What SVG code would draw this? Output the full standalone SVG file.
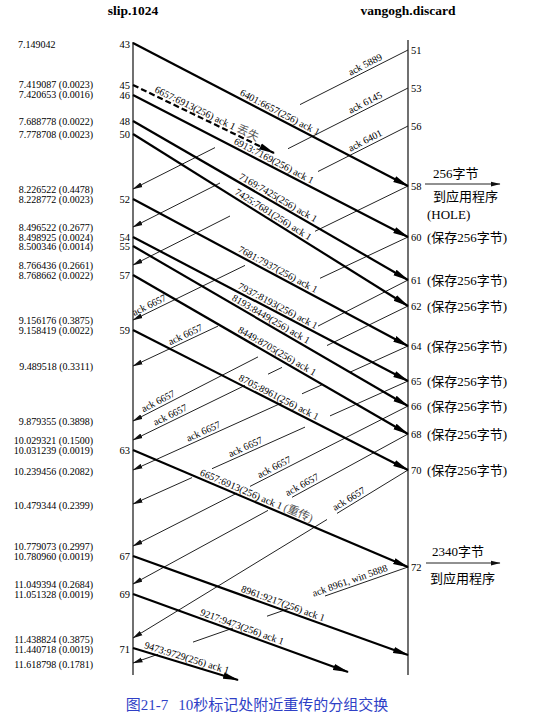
<svg xmlns="http://www.w3.org/2000/svg" width="547" height="721" viewBox="0 0 547 721">
<defs>
<style>
.t{font-family:"Liberation Serif","Noto Sans CJK SC",serif;font-size:10px;fill:#000}
.te{font-family:"Liberation Serif",serif;font-size:10px;fill:#000;text-anchor:end}
.n{font-family:"Liberation Serif",serif;font-size:10.5px;fill:#000}
.ne{font-family:"Liberation Serif",serif;font-size:10.5px;fill:#000;text-anchor:end}
.h{font-family:"Liberation Serif",serif;font-size:13.5px;font-weight:bold;fill:#000;text-anchor:middle}
.lb{font-family:"Liberation Serif","Noto Sans CJK SC",serif;font-size:10px;fill:#000;text-anchor:middle}
.cj{font-family:"Liberation Serif","Noto Sans CJK SC",serif;font-size:13px;fill:#000}
.g{fill:#555;font-size:11.5px}
.d{stroke:#000;stroke-width:2.2;fill:none;marker-end:url(#ad)}
.dash{stroke-dasharray:6 3}
.a{stroke:#222;stroke-width:1;fill:none;marker-end:url(#aa)}
.v{stroke:#111;stroke-width:1.2}
.cap{font-family:"Liberation Serif","Noto Sans CJK SC",sans-serif;font-size:15px;fill:#2f3fc6;text-anchor:middle}
</style>
<marker id="ad" markerUnits="userSpaceOnUse" markerWidth="16" markerHeight="8" viewBox="0 0 16 8" refX="15" refY="4" orient="auto"><path d="M0,0.8 L16,4 L0,7.2 Z" fill="#000"/></marker>
<marker id="aa" markerUnits="userSpaceOnUse" markerWidth="10" markerHeight="6" viewBox="0 0 10 6" refX="9.5" refY="3" orient="auto"><path d="M0,0.5 L10,3 L0,5.5 Z" fill="#111"/></marker>
</defs>
<rect width="547" height="721" fill="#fff"/>

<g id="headers">
<text class="h" x="133" y="15">slip.1024</text>
<text class="h" x="408" y="15">vangogh.discard</text>
</g>

<g id="timelines">
<line class="v" x1="133" y1="42" x2="133" y2="675"/>
<line class="v" x1="408" y1="40" x2="408" y2="675"/>
</g>

<g id="times">
<text class="t" x="18" y="47.5">7.149042</text>
<text class="te" x="93" y="87.5">7.419087 (0.0023)</text>
<text class="te" x="93" y="97.5">7.420653 (0.0016)</text>
<text class="te" x="93" y="124.5">7.688778 (0.0022)</text>
<text class="te" x="93" y="137.5">7.778708 (0.0023)</text>
<text class="te" x="93" y="192.5">8.226522 (0.4478)</text>
<text class="te" x="93" y="202.5">8.228772 (0.0023)</text>
<text class="te" x="93" y="230.5">8.496522 (0.2677)</text>
<text class="te" x="93" y="240.5">8.498925 (0.0024)</text>
<text class="te" x="93" y="250">8.500346 (0.0014)</text>
<text class="te" x="93" y="268.5">8.766436 (0.2661)</text>
<text class="te" x="93" y="278.5">8.768662 (0.0022)</text>
<text class="te" x="93" y="323.5">9.156176 (0.3875)</text>
<text class="te" x="93" y="333.5">9.158419 (0.0022)</text>
<text class="te" x="93" y="369.5">9.489518 (0.3311)</text>
<text class="te" x="93" y="424.5">9.879355 (0.3898)</text>
<text class="te" x="93" y="444">10.029321 (0.1500)</text>
<text class="te" x="93" y="454">10.031239 (0.0019)</text>
<text class="te" x="93" y="474.5">10.239456 (0.2082)</text>
<text class="te" x="93" y="508.5">10.479344 (0.2399)</text>
<text class="te" x="93" y="549.5">10.779073 (0.2997)</text>
<text class="te" x="93" y="559.5">10.780960 (0.0019)</text>
<text class="te" x="93" y="588">11.049394 (0.2684)</text>
<text class="te" x="93" y="598">11.051328 (0.0019)</text>
<text class="te" x="93" y="642.5">11.438824 (0.3875)</text>
<text class="te" x="93" y="652.5">11.440718 (0.0019)</text>
<text class="te" x="93" y="667.5">11.618798 (0.1781)</text>
</g>

<g id="left-numbers">
<text class="ne" x="130" y="48">43</text>
<text class="ne" x="130" y="89">45</text>
<text class="ne" x="130" y="99">46</text>
<text class="ne" x="130" y="125">48</text>
<text class="ne" x="130" y="138">50</text>
<text class="ne" x="130" y="203">52</text>
<text class="ne" x="130" y="240.5">54</text>
<text class="ne" x="130" y="250">55</text>
<text class="ne" x="130" y="279">57</text>
<text class="ne" x="130" y="334">59</text>
<text class="ne" x="130" y="454">63</text>
<text class="ne" x="130" y="560">67</text>
<text class="ne" x="130" y="598">69</text>
<text class="ne" x="130" y="653">71</text>
</g>

<g id="right-numbers">
<text class="n" x="411" y="54">51</text>
<text class="n" x="411" y="92">53</text>
<text class="n" x="411" y="130">56</text>
<text class="n" x="411" y="190">58</text>
<text class="n" x="411" y="241">60</text>
<text class="n" x="411" y="284">61</text>
<text class="n" x="411" y="310">62</text>
<text class="n" x="411" y="350">64</text>
<text class="n" x="411" y="385">65</text>
<text class="n" x="411" y="410">66</text>
<text class="n" x="411" y="438">68</text>
<text class="n" x="411" y="474">70</text>
<text class="n" x="411" y="571">72</text>
</g>

<g id="right-notes">
<text class="cj" x="433" y="177.5">256字节</text>
<text class="cj" x="433" y="200.5">到应用程序</text>
<text class="cj" x="427" y="218.5">(HOLE)</text>
<text class="cj" x="427" y="241.5">(保存256字节)</text>
<text class="cj" x="427" y="284.5">(保存256字节)</text>
<text class="cj" x="427" y="310.5">(保存256字节)</text>
<text class="cj" x="427" y="350.5">(保存256字节)</text>
<text class="cj" x="427" y="385.5">(保存256字节)</text>
<text class="cj" x="427" y="410.5">(保存256字节)</text>
<text class="cj" x="427" y="438.5">(保存256字节)</text>
<text class="cj" x="427" y="474.5">(保存256字节)</text>
<text class="cj" x="432" y="555.5">2340字节</text>
<text class="cj" x="430" y="582.5">到应用程序</text>
<line class="a" x1="425" y1="184" x2="500" y2="184"/>
<line class="a" x1="426" y1="563" x2="500" y2="563"/>
</g>

<g id="connectors">
<g id="acks">
<path class="a" d="M408,50 L300,104.6 M215,147.6 L133,189"/>
<path class="a" d="M408,88 L288,148.7 M220,183 L133,227"/>
<path class="a" d="M408,126 L318,171.5 M230,216 L133,265"/>
<path class="a" d="M408,186 L315,231.3 M245,265.4 L133,320"/>
<path class="a" d="M408,237 L320,278.3 M218,326.1 L133,366"/>
<path class="a" d="M408,280 L318,326.1 M258,356.9 L133,421"/>
<path class="a" d="M408,306 L327,345.5 M282,367.4 L268,374.2 M245,385.4 L133,440"/>
<path class="a" d="M408,346 L350,372.2 M322,384.8 L302,393.8 M282,402.8 L133,470"/>
<path class="a" d="M408,381 L330,415.9 M305,427.1 L212,468.7 M192,477.6 L133,504"/>
<path class="a" d="M408,406 L250,486.4 M237,493.1 L133,546"/>
<path class="a" d="M408,434 L292,497.3 M268,510.4 L133,584"/>
<path class="a" d="M408,470 L337,513.4 M327,519.5 L133,638"/>
<path class="a" d="M408,567 L325,596 M290,608.2 L267,616.2 M233,628.1 L193,642.1 M158,654.3 L133,663"/>
</g>
<g id="ack-labels">
<text class="lb" transform="translate(368,70.2) rotate(-26.82)" y="-3">ack 5889</text>
<text class="lb" transform="translate(368,108.2) rotate(-26.82)" y="-3">ack 6145</text>
<text class="lb" transform="translate(368,146.2) rotate(-26.82)" y="-3">ack 6401</text>
<text class="lb" transform="translate(152,310.7) rotate(-25.98)" y="-3">ack 6657</text>
<text class="lb" transform="translate(188,340.2) rotate(-25.13)" y="-3">ack 6657</text>
<text class="lb" transform="translate(161,406.6) rotate(-27.14)" y="-3">ack 6657</text>
<text class="lb" transform="translate(173,420.5) rotate(-25.98)" y="-3">ack 6657</text>
<text class="lb" transform="translate(206,437.1) rotate(-24.27)" y="-3">ack 6657</text>
<text class="lb" transform="translate(248,452.6) rotate(-24.1)" y="-3">ack 6657</text>
<text class="lb" transform="translate(277,472.7) rotate(-26.98)" y="-3">ack 6657</text>
<text class="lb" transform="translate(305,490.2) rotate(-28.61)" y="-3">ack 6657</text>
<text class="lb" transform="translate(352,504.2) rotate(-31.42)" y="-3">ack 6657</text>
<text class="lb" transform="translate(352,586.5) rotate(-19.24)" y="-3">ack 8961, win 5888</text>
</g>
<g id="data">
<line class="d" x1="133" y1="43" x2="408" y2="186"/>
<line class="d dash" x1="133" y1="85" x2="274" y2="153"/>
<line class="d" x1="133" y1="95" x2="408" y2="237"/>
<line class="d" x1="133" y1="121" x2="408" y2="280"/>
<line class="d" x1="133" y1="134" x2="408" y2="306"/>
<line class="d" x1="133" y1="199" x2="408" y2="346"/>
<line class="d" x1="133" y1="237" x2="408" y2="381"/>
<line class="d" x1="133" y1="246" x2="408" y2="406"/>
<line class="d" x1="133" y1="275" x2="408" y2="434"/>
<line class="d" x1="133" y1="330" x2="408" y2="470"/>
<line class="d" x1="133" y1="450" x2="408" y2="567"/>
<line class="d" x1="133" y1="556" x2="408" y2="655"/>
<line class="d" x1="133" y1="594" x2="348" y2="672"/>
<line class="d" x1="133" y1="648" x2="238" y2="680"/>
</g>
<g id="data-labels">
<text class="lb" transform="translate(277,117.9) rotate(27.47)" y="-3">6401:6657(256) ack 1</text>
<text class="lb" transform="translate(204,119.3) rotate(25.77)" y="-3">6657:6913(256) ack 1 <tspan class="g">丢失</tspan></text>
<text class="lb" transform="translate(271,166.3) rotate(27.31)" y="-3">6913:7169(256) ack 1</text>
<text class="lb" transform="translate(275,203.1) rotate(30.04)" y="-3">7169:7425(256) ack 1</text>
<text class="lb" transform="translate(270,219.7) rotate(32.02)" y="-3">7425:7681(256) ack 1</text>
<text class="lb" transform="translate(275,274.9) rotate(28.13)" y="-3">7681:7937(256) ack 1</text>
<text class="lb" transform="translate(275,311.4) rotate(27.64)" y="-3">7937:8193(256) ack 1</text>
<text class="lb" transform="translate(268,324.5) rotate(30.19)" y="-3">8193:8449(256) ack 1</text>
<text class="lb" transform="translate(274,356.5) rotate(30.04)" y="-3">8449:8705(256) ack 1</text>
<text class="lb" transform="translate(276,402.8) rotate(26.98)" y="-3">8705:8961(256) ack 1</text>
<text class="lb" transform="translate(254,501.5) rotate(23.05)" y="-3">6657:6913(256) ack 1 <tspan class="g">(重传)</tspan></text>
<text class="lb" transform="translate(281,609.3) rotate(19.8)" y="-3">8961:9217(256) ack 1</text>
<text class="lb" transform="translate(240,632.8) rotate(19.94)" y="-3">9217:9473(256) ack 1</text>
<text class="lb" transform="translate(185,663.8) rotate(16.95)" y="-3">9473:9729(256) ack 1</text>
</g>
</g>

<g id="caption">
<text class="cap" x="257" y="710">图21-7<tspan dx="10">10秒标记处附近重传的分组交换</tspan></text>
</g>
</svg>
